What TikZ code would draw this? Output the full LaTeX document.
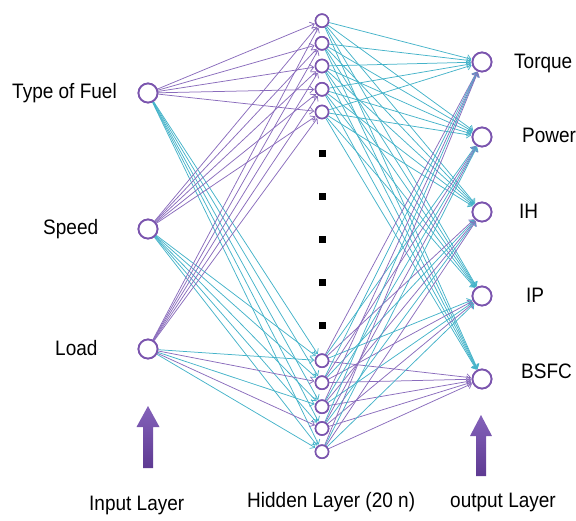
\documentclass[tikz,border=0pt]{standalone}
\usepackage{fontspec}
\setmainfont{Liberation Sans}
\usetikzlibrary{arrows.meta}
\definecolor{nodepurple}{HTML}{7B55AE}
\definecolor{linepurple}{HTML}{8A6CBC}
\definecolor{linecyan}{HTML}{45B3C9}
\definecolor{arrowtop}{HTML}{8462BA}
\definecolor{arrowbot}{HTML}{5E3A92}
\begin{document}
\begin{tikzpicture}[x=1pt,y=-1pt,
  neuron/.style={circle, draw=nodepurple, line width=1.8pt, fill=white, inner sep=0pt},
  inneuron/.style={neuron, minimum size=19pt},
  hidneuron/.style={neuron, minimum size=13pt, line width=1.6pt},
  outneuron/.style={neuron, minimum size=19pt},
  dotsq/.style={rectangle, fill=black, minimum size=7pt, inner sep=0pt},
  lbl/.style={font=\fontsize{19}{22}\selectfont, inner sep=0pt},
  pconn/.style={draw=linepurple, line width=0.75pt, -{Straight Barb[length=4pt,width=7pt]}, shorten >=0.5pt},
  cconn/.style={draw=linecyan, line width=0.75pt, -{Straight Barb[length=4pt,width=7pt]}, shorten >=0.5pt},
  layerarrow/.style={top color=arrowtop, bottom color=arrowbot, draw=none}]
\useasboundingbox (0,0) rectangle (576,520);

% input neurons
\node[inneuron] (in1) at (148,93) {};
\node[inneuron] (in2) at (148,229) {};
\node[inneuron] (in3) at (148,349) {};

% hidden neurons
\foreach \j/\y in {1/20.7,2/43.3,3/66,4/89.3,5/112,6/360.7,7/382.7,8/406.7,9/428.5,10/451.7}{
  \node[hidneuron] (h\j) at (322,\y) {};
}
% dots
\foreach \k/\y in {1/153,2/196,3/239,4/282,5/325}{
  \node[dotsq] (d\k) at (322,\y) {};
}

% output neurons
\node[outneuron] (o1) at (482,62) {};
\node[outneuron] (o2) at (482,137) {};
\node[outneuron] (o3) at (482,212) {};
\node[outneuron] (o4) at (482,296) {};
\node[outneuron] (o5) at (482,379) {};

% input -> hidden
\foreach \i in {1,2}{
  \foreach \j in {6,...,10}{\draw[cconn] (in\i) -- (h\j);}
}
\foreach \j in {6,8,10}{\draw[cconn] (in3) -- (h\j);}
\foreach \i in {1,2,3}{
  \foreach \j in {1,...,5}{\draw[pconn] (in\i) -- (h\j);}
}
\foreach \j in {7,9}{\draw[pconn] (in3) -- (h\j);}

% hidden -> output
\foreach \j in {1,...,5}{
  \foreach \k in {1,...,5}{\draw[cconn] (h\j) -- (o\k);}
}
\foreach \j in {6,...,10}{
  \foreach \k in {1,...,4}{
    \ifodd\numexpr\j+\k\relax
      \draw[pconn] (h\j) -- (o\k);
    \else
      \draw[cconn] (h\j) -- (o\k);
    \fi
  }
  \draw[pconn] (h\j) -- (o5);
}

% redraw neurons on top
\foreach \n in {in1,in2,in3}{\draw[draw=nodepurple, line width=1.8pt, fill=white] (\n) circle (9.5pt);}
\foreach \j in {1,...,10}{\draw[draw=nodepurple, line width=1.6pt, fill=white] (h\j) circle (6.5pt);}
\foreach \k in {1,...,5}{\draw[draw=nodepurple, line width=1.8pt, fill=white] (o\k) circle (9.5pt);}

% labels left
\node[lbl, anchor=mid west] (lfuel) at (12,96) {\scalebox{1}[1.1]{Type of Fuel}};
\node[lbl, anchor=mid west] (lspeed) at (43,232) {\scalebox{1}[1.1]{Speed}};
\node[lbl, anchor=mid west] (lload) at (55,353) {\scalebox{1}[1.1]{Load}};

% labels right
\node[lbl, anchor=mid west] (ltorque) at (514,66) {\scalebox{1}[1.1]{Torque}};
\node[lbl, anchor=mid west] (lpower) at (522,140) {\scalebox{1}[1.1]{Power}};
\node[lbl, anchor=mid west] (lih) at (519,216) {\scalebox{1}[1.1]{IH}};
\node[lbl, anchor=mid west] (lip) at (526,300) {\scalebox{1}[1.1]{IP}};
\node[lbl, anchor=mid west] (lbsfc) at (521,376) {\scalebox{1}[1.1]{BSFC}};

% bottom labels
\node[lbl, anchor=mid west] (linput) at (89,508) {\scalebox{1}[1.1]{Input Layer}};
\node[lbl, anchor=mid west] (lhidden) at (247,505) {\scalebox{1}[1.1]{Hidden Layer (20 n)}};
\node[lbl, anchor=mid west] (loutput) at (450,505) {\scalebox{1}[1.1]{output Layer}};

% layer arrows
\shade[layerarrow] (148,406) -- (159.5,427) -- (153,427) -- (153,468) -- (143,468) -- (143,427) -- (136.5,427) -- cycle;
\shade[layerarrow] (481,415) -- (492,436) -- (486,436) -- (486,476) -- (476,476) -- (476,436) -- (470,436) -- cycle;
\end{tikzpicture}
\end{document}
